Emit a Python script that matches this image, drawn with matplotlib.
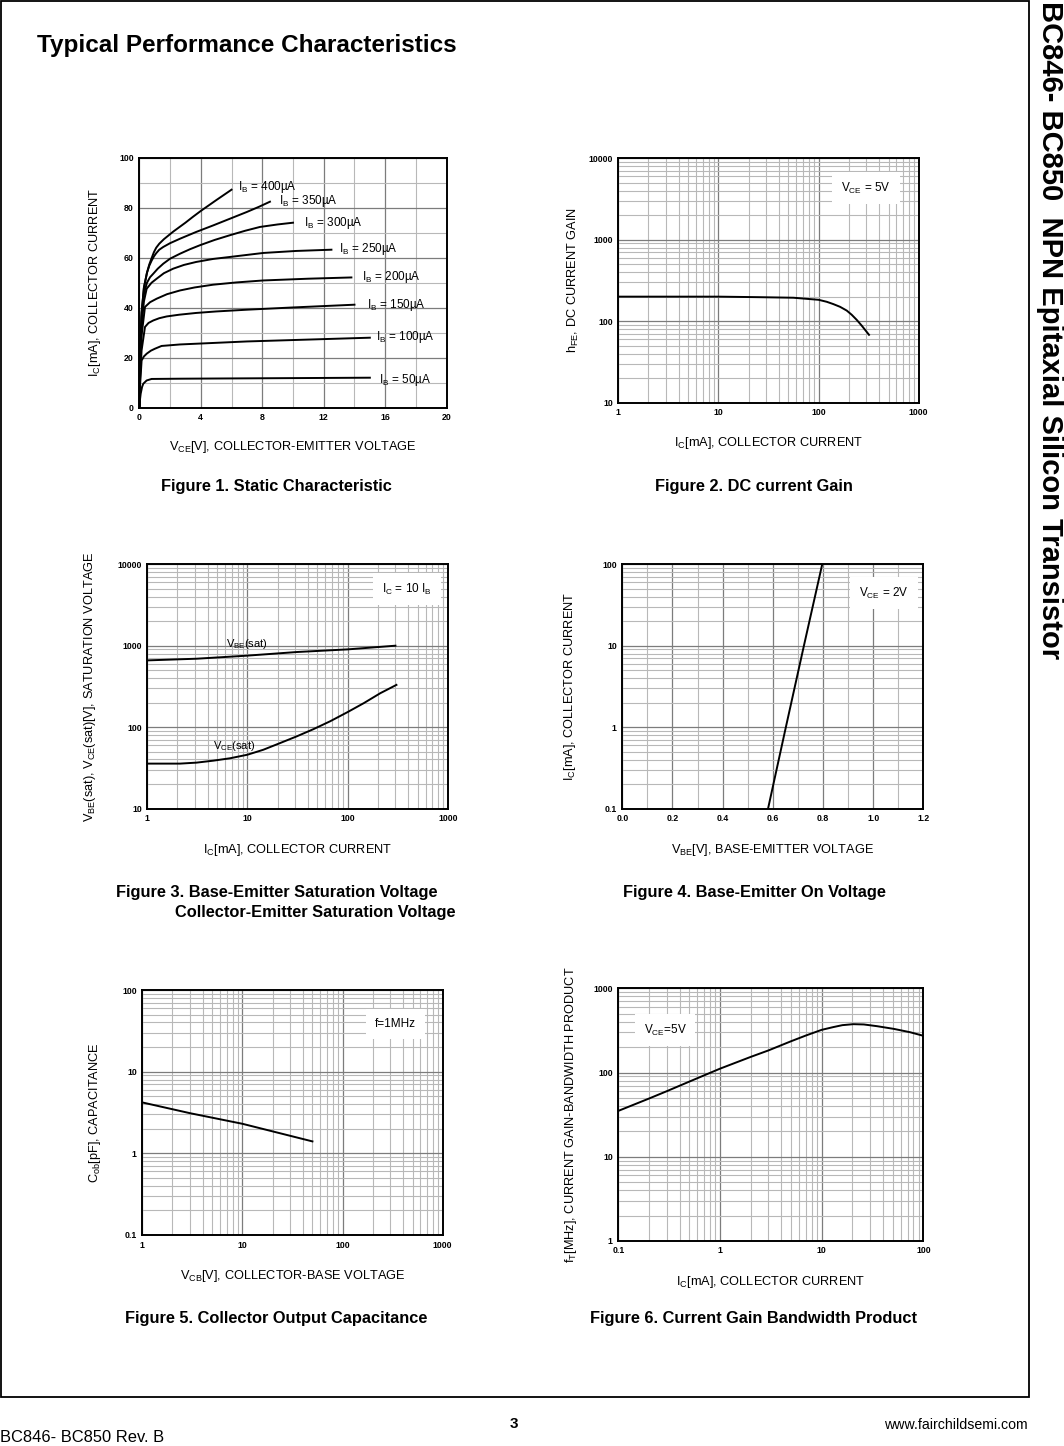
import numpy as np
import matplotlib.pyplot as plt
from matplotlib.ticker import MultipleLocator, LogLocator, NullFormatter
from matplotlib.patches import Rectangle

plt.rcParams['font.family'] = ['Liberation Sans', 'DejaVu Sans']
plt.rcParams['mathtext.fontset'] = 'custom'
plt.rcParams['mathtext.rm'] = 'Liberation Sans'
plt.rcParams['mathtext.it'] = 'Liberation Sans'
plt.rcParams['mathtext.bf'] = 'Liberation Sans:bold'
plt.rcParams['mathtext.default'] = 'regular'

# ---- data ----
# Figure 1: static characteristic, Ic [mA] vs Vce [V] per base current
ib_values = [50, 100, 150, 200, 250, 300, 350, 400]
vce_ib50 = [0, 0.03, 0.09, 0.18, 0.26, 0.48, 0.8, 2.65, 15]
ic_ib50 = [0, 2.5, 5.6, 8.3, 9.6, 10.9, 11.5, 11.6, 12]
vce_ib100 = [0, 0.05, 0.15, 0.3, 0.48, 0.75, 1.02, 1.45, 2.65, 7, 15]
ic_ib100 = [0, 9, 18.9, 20.5, 21.6, 22.8, 23.6, 24.7, 25.3, 26.5, 28]
vce_ib150 = [0, 0.05, 0.15, 0.37, 0.6, 0.91, 1.3, 1.78, 2.6, 3.7, 5, 7, 10, 14]
ic_ib150 = [0, 12, 23, 32.3, 33.9, 34.9, 35.8, 36.5, 37.2, 37.9, 38.5, 39.2, 40.1, 41.2]
vce_ib200 = [0, 0.05, 0.15, 0.37, 0.7, 1.13, 1.8, 2.65, 3.6, 4.8, 6.3, 8.07, 11, 13.8]
ic_ib200 = [0, 15, 29, 40.3, 42.2, 43.6, 45.4, 46.9, 48.1, 49.2, 50.1, 50.9, 51.6, 52.1]
vce_ib250 = [0, 0.05, 0.15, 0.3, 0.48, 0.8, 1.13, 1.6, 2.2, 2.9, 3.7, 4.8, 5.9, 8.07, 10.2, 12.5]
ic_ib250 = [0, 17, 33, 42.5, 47.6, 50.0, 51.6, 53.8, 55.6, 57.1, 58.3, 59.5, 60.3, 61.9, 62.7, 63.2]
vce_ib300 = [0, 0.05, 0.15, 0.3, 0.5, 0.7, 0.91, 1.2, 1.56, 2.0, 2.65, 3.3, 3.95, 4.9, 5.9, 6.9, 7.85, 9, 10]
ic_ib300 = [0, 18, 36, 45.5, 50, 52.2, 53.6, 55.6, 57.6, 59.6, 61.6, 63.4, 65, 67.1, 69, 70.8, 72.3, 73.3, 74]
vce_ib350 = [0, 0.05, 0.15, 0.3, 0.5, 0.65, 0.8, 0.95, 1.1, 1.3, 1.56, 2.0, 2.65, 3.7, 4.8, 5.9, 7, 7.8, 8.5]
ic_ib350 = [0, 19, 38, 48, 54, 56.8, 58.8, 60.5, 61.8, 63.2, 64.3, 65.8, 67.6, 70.3, 72.9, 75.6, 78.3, 80.4, 82.4]
vce_ib400 = [0, 0.05, 0.15, 0.3, 0.5, 0.65, 0.8, 0.95, 1.1, 1.3, 1.6, 2.2, 3.0, 3.5, 4.0, 5.0, 6.0]
ic_ib400 = [0, 19, 38, 48, 54, 57.3, 59.8, 62.2, 64, 65.6, 67.4, 70.4, 74, 76.4, 78.7, 83, 87.2]

# Figure 2: DC current gain, Vce = 5V
ic_hfe = [1, 10, 26, 56, 100, 120.6, 140.5, 164, 191, 214, 240, 270, 319]
hfe = [200, 200, 197, 194, 183, 173, 162, 150, 135, 120, 104, 88, 68]

# Figure 3: saturation voltages [mV], Ic = 10 Ib
ic_vbe = [1, 3.1, 9.8, 31, 100, 300]
vbe_sat = [660, 692, 754, 836, 901, 1000]
ic_vce = [1, 2.12, 3.1, 4.57, 6.7, 10, 14.4, 21.2, 31, 45.7, 67, 100, 145, 212, 307]
vce_sat = [35.6, 35.6, 36.6, 38.7, 41.4, 45.8, 52.7, 63.7, 76.9, 94.5, 118, 153, 197, 261, 330]

# Figure 4: base-emitter on voltage, Vce = 2V
vbe_on = [0.581, 0.652, 0.724, 0.797]
ic_on = [0.1, 1, 10, 100]

# Figure 5: collector output capacitance, f = 1MHz
vcb = [1, 3, 10, 50]
cob = [4.2, 3.1, 2.3, 1.4]

# Figure 6: current gain bandwidth product, Vce = 5V
ic_ft = [0.1, 0.2, 0.3, 0.5, 1, 2, 3, 5, 7, 10, 13, 16, 20.5, 26, 35, 51, 74, 100]
ft = [35, 49, 60, 78, 111, 153, 183, 235, 275, 321, 346, 365, 375, 372, 355, 330, 301, 273]

W, H = 1064, 1446
fig = plt.figure(figsize=(W / 100, H / 100), dpi=100)


def rect(l, t, r, b):
    return [l / W, 1 - b / H, (r - l) / W, (b - t) / H]


def ftext(x, y, s, **kw):
    fig.text(x / W, 1 - y / H, s, **kw)


MAJ = '#7c7c7c'
MIN = '#b8b8b8'
TICK = dict(fontsize=6.3, fontweight='bold')


def style(ax):
    ax.tick_params(which='both', length=0)
    ax.tick_params(which='major', pad=4)
    ax.grid(which='major', color=MAJ, lw=0.9)
    ax.grid(which='minor', color=MIN, lw=0.8)
    ax.set_axisbelow(True)
    for s in ax.spines.values():
        s.set_linewidth(1.4)


def logaxis(axis, ticks, labels):
    axis.set_ticks(ticks, labels, **TICK)
    axis.set_minor_locator(LogLocator(base=10, subs=np.arange(2, 10)))
    axis.set_minor_formatter(NullFormatter())


# ---------- Figure 1 ----------
ax1 = fig.add_axes(rect(139.3, 157.7, 446.7, 407.7))
vce_all = [vce_ib50, vce_ib100, vce_ib150, vce_ib200, vce_ib250, vce_ib300, vce_ib350, vce_ib400]
ic_all = [ic_ib50, ic_ib100, ic_ib150, ic_ib200, ic_ib250, ic_ib300, ic_ib350, ic_ib400]
for v, i in zip(vce_all, ic_all):
    ax1.plot(v, i, color='k', lw=1.4, solid_joinstyle='round')
ax1.set_xlim(0, 20)
ax1.set_ylim(0, 100)
ax1.set_xticks([0, 4, 8, 12, 16, 20], ['0', '4', '8', '12', '16', '20'], **TICK)
ax1.set_yticks([0, 20, 40, 60, 80, 100], ['0', '20', '40', '60', '80', '100'], **TICK)
ax1.xaxis.set_minor_locator(MultipleLocator(2))
ax1.yaxis.set_minor_locator(MultipleLocator(10))
style(ax1)
lbl_pos = [(15.6, 11.2), (15.4, 28.3), (14.8, 41), (14.5, 52.3),
           (13.0, 63.3), (10.7, 74), (9.1, 82.7), (6.45, 88.3)]
for ib, (x, y) in zip(ib_values, lbl_pos):
    ax1.text(x, y, 'I$_B$ = %d\u00b5A' % ib, fontsize=8.5, va='center', ha='left')

# ---------- Figure 2 ----------
ax2 = fig.add_axes(rect(618.3, 158.3, 918.7, 402.6))
ax2.plot(ic_hfe, hfe, color='k', lw=1.4)
ax2.set_xscale('log')
ax2.set_yscale('log')
ax2.set_xlim(1, 1000)
ax2.set_ylim(10, 10000)
logaxis(ax2.xaxis, [1, 10, 100, 1000], ['1', '10', '100', '1000'])
logaxis(ax2.yaxis, [10, 100, 1000, 10000], ['10', '100', '1000', '10000'])
style(ax2)

# ---------- Figure 3 ----------
ax3 = fig.add_axes(rect(147.3, 564.3, 447.8, 808.5))
ax3.plot(ic_vbe, vbe_sat, color='k', lw=1.4)
ax3.plot(ic_vce, vce_sat, color='k', lw=1.4)
ax3.set_xscale('log')
ax3.set_yscale('log')
ax3.set_xlim(1, 1000)
ax3.set_ylim(10, 10000)
logaxis(ax3.xaxis, [1, 10, 100, 1000], ['1', '10', '100', '1000'])
logaxis(ax3.yaxis, [10, 100, 1000, 10000], ['10', '100', '1000', '10000'])
style(ax3)

# ---------- Figure 4 ----------
ax4 = fig.add_axes(rect(622.3, 564.3, 923.3, 808.7))
ax4.plot(vbe_on, ic_on, color='k', lw=1.4)
ax4.set_yscale('log')
ax4.set_xlim(0, 1.2)
ax4.set_ylim(0.1, 100)
ax4.set_xticks([0, 0.2, 0.4, 0.6, 0.8, 1.0, 1.2],
               ['0.0', '0.2', '0.4', '0.6', '0.8', '1.0', '1.2'], **TICK)
ax4.xaxis.set_minor_locator(MultipleLocator(0.1))
logaxis(ax4.yaxis, [0.1, 1, 10, 100], ['0.1', '1', '10', '100'])
style(ax4)

# ---------- Figure 5 ----------
ax5 = fig.add_axes(rect(142.3, 990, 442.7, 1235))
ax5.plot(vcb, cob, color='k', lw=1.4)
ax5.set_xscale('log')
ax5.set_yscale('log')
ax5.set_xlim(1, 1000)
ax5.set_ylim(0.1, 100)
logaxis(ax5.xaxis, [1, 10, 100, 1000], ['1', '10', '100', '1000'])
logaxis(ax5.yaxis, [0.1, 1, 10, 100], ['0.1', '1', '10', '100'])
style(ax5)

# ---------- Figure 6 ----------
ax6 = fig.add_axes(rect(618.3, 988.3, 923.3, 1240.9))
ax6.plot(ic_ft, ft, color='k', lw=1.4)
ax6.set_xscale('log')
ax6.set_yscale('log')
ax6.set_xlim(0.1, 100)
ax6.set_ylim(1, 1000)
logaxis(ax6.xaxis, [0.1, 1, 10, 100], ['0.1', '1', '10', '100'])
logaxis(ax6.yaxis, [1, 10, 100, 1000], ['1', '10', '100', '1000'])
style(ax6)

# ---------- in-plot notes ----------
box = dict(boxstyle='square,pad=0.75', facecolor='white', edgecolor='none')
note = dict(fontsize=8.5, ha='center', va='center', bbox=box)
ftext(866, 188, 'V$_{CE}$ = 5V', **note)
ftext(407, 589, 'I$_C$ = 10 I$_B$', **note)
ftext(884, 593, 'V$_{CE}$ = 2V', **note)
ftext(395.5, 1024, 'f=1MHz', **note)
ftext(665, 1030, 'V$_{CE}$=5V', **note)
ftext(226, 644, 'V$_{BE}$(sat)', fontsize=8, ha='left', va='center')
ftext(213, 746, 'V$_{CE}$(sat)', fontsize=8, ha='left', va='center')

# ---------- axis labels ----------
lab = dict(fontsize=9.2, ha='center', va='center')
ftext(293, 447, 'V$_{CE}$[V], COLLECTOR-EMITTER VOLTAGE', **lab)
ftext(95, 282.7, 'I$_C$[mA], COLLECTOR CURRENT', rotation=90, **lab)
ftext(768.5, 443, 'I$_C$[mA], COLLECTOR CURRENT', **lab)
ftext(573, 280.5, 'h$_{FE}$, DC CURRENT GAIN', rotation=90, **lab)
ftext(297.5, 850, 'I$_C$[mA], COLLECTOR CURRENT', **lab)
ftext(90, 686.4, 'V$_{BE}$(sat), V$_{CE}$(sat)[V], SATURATION VOLTAGE', rotation=90, **lab)
ftext(772.8, 850, 'V$_{BE}$[V], BASE-EMITTER VOLTAGE', **lab)
ftext(570, 686.5, 'I$_C$[mA], COLLECTOR CURRENT', rotation=90, **lab)
ftext(292.5, 1276, 'V$_{CB}$[V], COLLECTOR-BASE VOLTAGE', **lab)
ftext(95, 1112.5, 'C$_{ob}$[pF], CAPACITANCE', rotation=90, **lab)
ftext(770.8, 1282, 'I$_C$[mA], COLLECTOR CURRENT', **lab)
ftext(571, 1114.6, 'f$_T$[MHz], CURRENT GAIN-BANDWIDTH PRODUCT', rotation=90, **lab)

# ---------- captions ----------
cap = dict(fontsize=11.75, fontweight='bold', va='center')
ftext(276, 487, 'Figure 1. Static Characteristic', ha='center', **cap)
ftext(754, 487, 'Figure 2. DC current Gain', ha='center', **cap)
ftext(116, 893, 'Figure 3. Base-Emitter Saturation Voltage', ha='left', **cap)
ftext(175, 913, 'Collector-Emitter Saturation Voltage', ha='left', **cap)
ftext(754, 893, 'Figure 4. Base-Emitter On Voltage', ha='center', **cap)
ftext(276, 1319, 'Figure 5. Collector Output Capacitance', ha='center', **cap)
ftext(754, 1319, 'Figure 6. Current Gain Bandwidth Product', ha='center', **cap)

# ---------- page furniture ----------
ftext(37, 52, 'Typical Performance Characteristics', fontsize=17.5, fontweight='bold',
      ha='left', va='baseline')
ftext(1050, 1, 'BC846- BC850  NPN Epitaxial Silicon Transistor', fontsize=21,
      fontweight='bold', rotation=-90, ha='center', va='top')
fig.patches.append(Rectangle((0.7 / W, 1 - 1397.3 / H), 1028.6 / W, 1396.6 / H,
                             transform=fig.transFigure, fill=False, lw=1.3, ec='k'))
ftext(514, 1424, '3', fontsize=11, fontweight='bold', ha='center', va='center')
ftext(1028, 1425, 'www.fairchildsemi.com', fontsize=10.2, ha='right', va='center')
ftext(0, 1438, 'BC846- BC850 Rev. B', fontsize=11.9, ha='left', va='center')

fig.savefig('out.png', dpi=100)
